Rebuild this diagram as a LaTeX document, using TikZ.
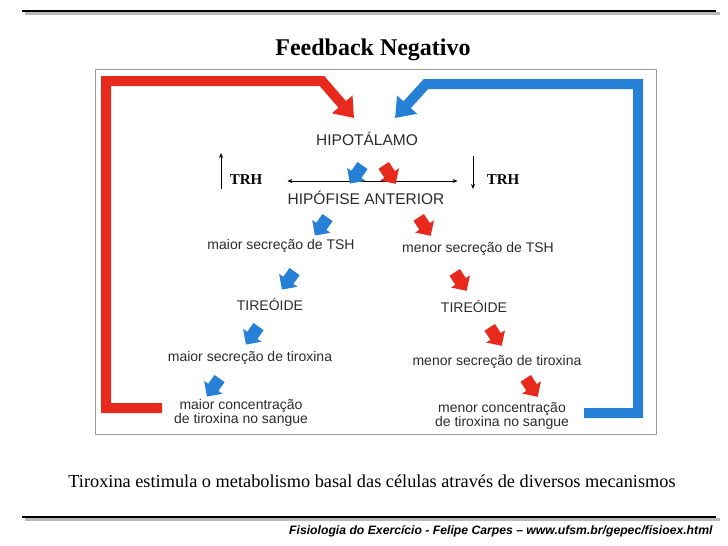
\documentclass[tikz,border=0pt]{standalone}
\usepackage{fontspec}
\setmainfont{Liberation Serif}
\newfontfamily\diagfont{Liberation Sans}
\usetikzlibrary{arrows.meta,shapes.arrows}
\definecolor{loopred}{RGB}{232,42,30}
\definecolor{loopblue}{RGB}{38,128,214}
\definecolor{ink}{HTML}{2B2B2B}
\definecolor{framegray}{HTML}{9A9A9A}

\begin{document}
\begin{tikzpicture}[
  x=1pt, y=-1pt,
  >={Stealth[length=5pt,width=4pt]},
  textlabel/.style={font=\diagfont\fontsize{14}{13}\selectfont, text=ink, align=center, inner sep=1pt},
  organ/.style={font=\diagfont\fontsize{15.5}{17}\selectfont, text=ink, inner sep=1pt},
  hormone/.style={font=\bfseries\fontsize{15}{17}\selectfont, inner sep=1pt},
  fatarrow/.style={single arrow, minimum height=22pt, minimum width=22pt,
    single arrow head extend=5pt, inner xsep=0pt, inner ysep=6pt},
  bluearrow/.style={fatarrow, fill=loopblue, rotate=235},
  redarrow/.style={fatarrow, fill=loopred, rotate=-57},
  bigloop/.style={line width=10pt, -{Triangle[width=26pt,length=18pt]}},
  trharrow/.style={line width=.6pt, ->},
  rulestyle/.style={line width=2.6pt}
]
  \useasboundingbox (0,0) rectangle (728,546);

  % top and bottom rules
  \draw[rulestyle, gray!55] (25,13.5) -- (720,13.5);
  \draw[rulestyle, black] (22,11) -- (716,11);
  \draw[rulestyle, gray!55] (25,519.5) -- (720,519.5);
  \draw[rulestyle, black] (22,517) -- (716,517);

  \node[font=\bfseries\fontsize{24}{28}\selectfont] (title) at (373,50) {Feedback Negativo};

  % figure frame
  \draw[framegray, line width=.8pt] (95,69) rectangle (656,434);

  % the two feedback loops
  \coordinate (redstart) at (162,408);
  \coordinate (redend) at (354,118);
  \draw[bigloop, loopred] (redstart) -- (106,408) -- (106,81) -- (322,81) -- (redend);
  \coordinate (bluestart) at (584,413);
  \coordinate (blueend) at (395,118);
  \draw[bigloop, loopblue] (bluestart) -- (638,413) -- (638,84) -- (426,84) -- (blueend);

  \node[organ] (hipo) at (367,139) {HIPOTÁLAMO};
  \node[organ] (hipof) at (366,198) {HIPÓFISE ANTERIOR};

  \node[hormone] (trhL) at (246,180) {TRH};
  \node[hormone] (trhR) at (503,180) {TRH};
  \coordinate (trhupfoot) at (221,189);
  \coordinate (trhuptip) at (221,153);
  \coordinate (trhdowntop) at (473,156);
  \coordinate (trhdowntip) at (473,189);
  \draw[trharrow] (trhupfoot) -- (trhuptip);
  \draw[trharrow] (trhdowntop) -- (trhdowntip);
  \draw[line width=.6pt, <->, shorten <=24pt, shorten >=28pt] ([yshift=-1pt]trhL.east) -- ([yshift=-1pt]trhR.west);

  % left branch
  \node[textlabel] (tshmaior) at (281,246) {maior secreção de TSH};
  \node[textlabel] (tirmaior) at (270,304) {TIREÓIDE};
  \node[textlabel] (tiromaior) at (250,358) {maior secreção de tiroxina};
  \node[textlabel] (sangmaior) at (241,413) {maior concentração\\de tiroxina no sangue};
  % right branch
  \node[textlabel] (tshmenor) at (478,249) {menor secreção de TSH};
  \node[textlabel] (tirmenor) at (474,306) {TIREÓIDE};
  \node[textlabel] (tiromenor) at (497,362) {menor secreção de tiroxina};
  \node[textlabel] (sangmenor) at (502,416) {menor concentração\\de tiroxina no sangue};

  \node[bluearrow] (hipob) at (358,172) {};
  \node[redarrow] (hipor) at (388,172) {};
  \node[bluearrow] (tshb) at (323,224) {};
  \node[redarrow] (tshr) at (423,224) {};
  \node[bluearrow] (tirb) at (290,278) {};
  \node[redarrow] (tirr) at (459,279) {};
  \node[bluearrow] (tirob) at (254,333) {};
  \node[redarrow] (tiror) at (494,334) {};
  \node[bluearrow] (sangb) at (215,385) {};
  \node[redarrow] (sangr) at (530,385) {};

  \node[font=\fontsize{18.3}{20}\selectfont] (caption) at (372,481) {Tiroxina estimula o metabolismo basal das células através de diversos mecanismos};
  \node[font=\diagfont\bfseries\itshape\fontsize{12.2}{14}\selectfont, anchor=east] (footer) at (716,531) {Fisiologia do Exercício - Felipe Carpes – www.ufsm.br/gepec/fisioex.html};
\end{tikzpicture}
\end{document}
